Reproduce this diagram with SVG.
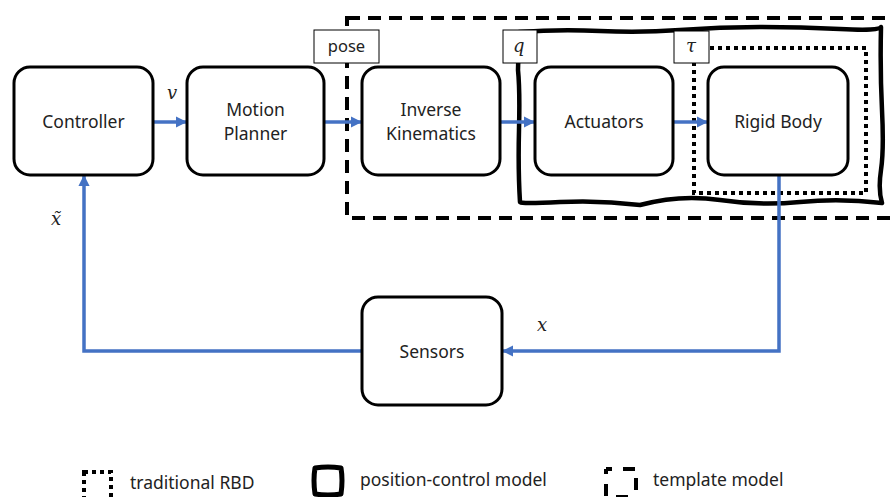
<svg xmlns="http://www.w3.org/2000/svg" width="891" height="497" viewBox="0 0 891 497">
<defs>
<style>
.node{fill:#fff;stroke:#000;stroke-width:3}
.t{font-family:"Noto Sans","Open Sans",sans-serif;font-size:17.5px;fill:#222;text-anchor:middle}
.lg{font-family:"Noto Sans","Open Sans",sans-serif;font-size:17.5px;fill:#222}
.m{font-family:"DejaVu Serif","Liberation Serif",serif;font-style:italic;font-size:18px;fill:#222}
.c{fill:none;stroke:#4472C4;stroke-width:3.5}
.lab{fill:#fff;stroke:#000;stroke-width:1}
.dash{fill:none;stroke:#000;stroke-width:4;stroke-dasharray:13 8}
.dot{fill:none;stroke:#000;stroke-width:4;stroke-dasharray:4 4}
.wavy{fill:none;stroke:#000;stroke-width:4.5;stroke-linejoin:round}
</style>
<marker id="ah" viewBox="0 0 10 10" refX="9" refY="5" markerWidth="3.2" markerHeight="3.2" orient="auto" markerUnits="strokeWidth">
<path d="M0,0 L10,5 L0,10 z" fill="#4472C4"/>
</marker>
</defs>
<rect width="891" height="497" fill="#fff"/>

<g id="regions">
<rect class="dash" x="347" y="18" width="560" height="200"/>
<path class="wavy" d="M519,32 Q560,29 600,31 T680,30 T760,27 T840,29 T881,27 Q880,70 882,110 T881,170 T882,203 Q840,198 800,202 T720,200 T640,205 Q600,200 560,202 T520,202 Q518,170 519,130 T518,70 Z"/>
<rect class="dot" x="694" y="48" width="172" height="145"/>
</g>

<g id="connectors">
<line class="c" x1="153" y1="122" x2="186" y2="122" marker-end="url(#ah)"/>
<line class="c" x1="324" y1="122" x2="361" y2="122" marker-end="url(#ah)"/>
<line class="c" x1="500" y1="122" x2="534" y2="122" marker-end="url(#ah)"/>
<line class="c" x1="673" y1="122" x2="707" y2="122" marker-end="url(#ah)"/>
<polyline class="c" points="779,175 779,351 503,351" marker-end="url(#ah)"/>
<polyline class="c" points="362,351 84,351 84,176" marker-end="url(#ah)"/>
</g>

<g id="controller">
<rect class="node" x="14" y="67" width="139" height="108" rx="16"/>
<text class="t" x="83.5" y="128">Controller</text>
</g>
<g id="motion-planner">
<rect class="node" x="187" y="67" width="137" height="108" rx="16"/>
<text class="t" x="255.5" y="116">Motion</text>
<text class="t" x="255.5" y="140">Planner</text>
</g>
<g id="inverse-kinematics">
<rect class="node" x="362" y="67" width="138" height="108" rx="16"/>
<text class="t" x="431" y="116">Inverse</text>
<text class="t" x="431" y="140">Kinematics</text>
</g>
<g id="actuators">
<rect class="node" x="535" y="67" width="138" height="108" rx="16"/>
<text class="t" x="604" y="128">Actuators</text>
</g>
<g id="rigid-body">
<rect class="node" x="708" y="67" width="140" height="108" rx="16"/>
<text class="t" x="778" y="128">Rigid Body</text>
</g>
<g id="sensors">
<rect class="node" x="362" y="297" width="140" height="108" rx="16"/>
<text class="t" x="432" y="358">Sensors</text>
</g>

<g id="labels">
<rect class="lab" x="314" y="30" width="65" height="33"/>
<text class="t" x="346.5" y="52" style="font-size:16.5px">pose</text>
<rect class="lab" x="503" y="30" width="34" height="33"/>
<text class="m" x="513" y="52">q</text>
<rect class="lab" x="674" y="31" width="35" height="32"/>
<text class="m" x="686" y="52">τ</text>
<text class="m" x="167" y="99">v</text>
<text class="m" x="51" y="225">x̃</text>
<text class="m" x="537" y="331">x</text>
</g>

<g id="legend">
<rect class="dot" x="84" y="472" width="27" height="27"/>
<text class="lg" x="130" y="489">traditional RBD</text>
<path class="wavy" d="M315,468 Q328,466 341,468 Q343,480 341,494 Q328,496 315,494 Q313,480 315,468 Z" style="stroke-width:5"/>
<text class="lg" x="360" y="486">position-control model</text>
<path d="M606,469 h6 M606,469 v5 M623,469 h12 M636,478 v12 M606,484 v12 M616,497 h12" fill="none" stroke="#000" stroke-width="4"/>
<text class="lg" x="653" y="486">template model</text>
</g>
</svg>
